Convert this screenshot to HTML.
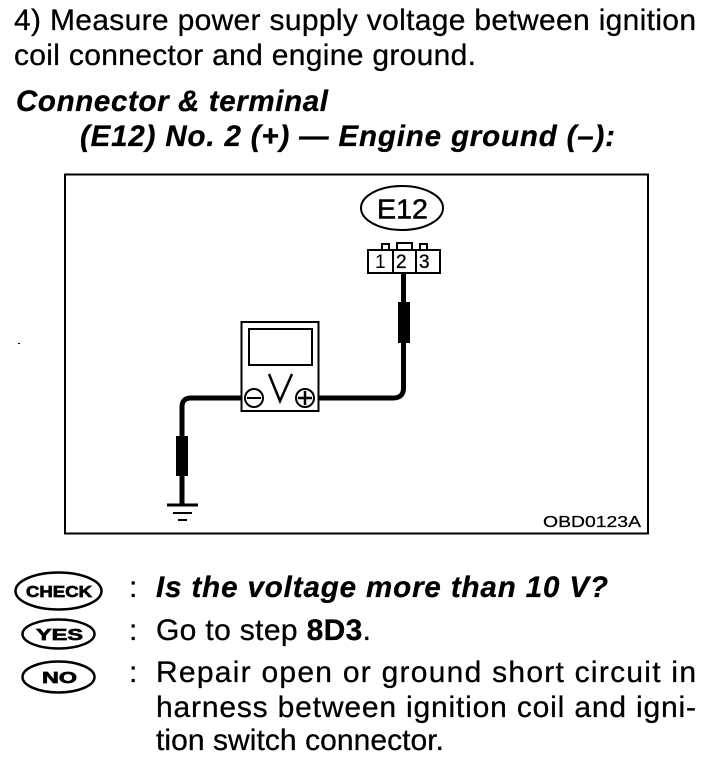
<!DOCTYPE html>
<html>
<head>
<meta charset="utf-8">
<style>
html,body{margin:0;padding:0;background:#fff}
svg{display:block}
text{font-family:"Liberation Sans",sans-serif;fill:#000}
.t{font-size:30px;stroke:#000;stroke-width:.3px}
.b{font-size:29.500px;font-weight:bold;font-style:italic;stroke:#000;stroke-width:.3px}
.lbl{font-weight:bold;font-size:16px;stroke:#000;stroke-width:.7px}
</style>
</head>
<body>
<svg width="704" height="760" viewBox="0 0 704 760" xmlns="http://www.w3.org/2000/svg">
<text class="t" x="14" y="30" textLength="682" lengthAdjust="spacing">4)  Measure power supply voltage between ignition</text>
<text class="t" x="14" y="65" textLength="462" lengthAdjust="spacing">coil connector and engine ground.</text>
<text class="b" x="16" y="111" textLength="312" lengthAdjust="spacing">Connector &amp; terminal</text>
<text class="b" x="80" y="146" textLength="535" lengthAdjust="spacing">(E12) No. 2 (+) — Engine ground (–):</text>

<rect x="65" y="174.500" width="583" height="359" fill="none" stroke="#000" stroke-width="2"/>
<text x="543" y="527" font-size="16" stroke="#000" stroke-width=".25" textLength="98" lengthAdjust="spacingAndGlyphs">OBD0123A</text>
<rect x="18" y="343" width="2" height="1" fill="#000"/>

<ellipse cx="402" cy="208" rx="41" ry="22" fill="none" stroke="#000" stroke-width="2"/>
<text x="377" y="218.500" font-size="28" stroke="#000" stroke-width=".5" textLength="51" lengthAdjust="spacingAndGlyphs">E12</text>

<g fill="none" stroke="#000" stroke-width="2">
<rect x="382" y="244" width="7" height="6"/>
<rect x="397" y="243" width="15" height="7"/>
<rect x="420" y="244" width="7" height="6"/>
<rect x="368" y="250" width="72" height="23"/>
<path d="M393 250V273M416 250V273"/>
</g>
<text x="375" y="268" font-size="19">1</text>
<text x="396" y="268" font-size="19" stroke="#000" stroke-width=".3">2</text>
<text x="419" y="268" font-size="19" stroke="#000" stroke-width=".3">3</text>

<path d="M403.500 273V388Q403.500 398 393 398H318" fill="none" stroke="#000" stroke-width="5"/>
<rect x="398" y="302" width="12" height="41" fill="#000"/>

<path d="M241 398H191Q182 398 182 407V505" fill="none" stroke="#000" stroke-width="5"/>
<rect x="176" y="436" width="12" height="40" fill="#000"/>
<g stroke="#000" fill="none">
<path d="M167 505H198" stroke-width="3"/>
<path d="M173 513H192" stroke-width="2"/>
<path d="M178 520H187" stroke-width="2"/>
</g>

<rect x="241.500" y="322" width="77" height="89" fill="#fff" stroke="#000" stroke-width="2"/>
<rect x="249" y="329" width="63" height="36" fill="none" stroke="#000" stroke-width="2"/>
<path d="M269 374L280 401L292 374" fill="none" stroke="#000" stroke-width="2.500"/>
<circle cx="254" cy="398" r="9" fill="#fff" stroke="#000" stroke-width="2"/>
<path d="M247 398H261" stroke="#000" stroke-width="2"/>
<circle cx="305" cy="398" r="9" fill="#fff" stroke="#000" stroke-width="2"/>
<path d="M298 398H312M305 391V405" stroke="#000" stroke-width="2.500"/>

<ellipse cx="58.500" cy="591" rx="43" ry="18.500" fill="none" stroke="#000" stroke-width="2.500"/>
<text class="lbl" x="26" y="597" textLength="66" lengthAdjust="spacingAndGlyphs">CHECK</text>
<ellipse cx="58.500" cy="634" rx="36" ry="14.500" fill="none" stroke="#000" stroke-width="2.500"/>
<text class="lbl" x="36" y="640" textLength="47" lengthAdjust="spacingAndGlyphs">YES</text>
<ellipse cx="58.500" cy="677" rx="36" ry="15.500" fill="none" stroke="#000" stroke-width="2.500"/>
<text class="lbl" x="42" y="683" textLength="35" lengthAdjust="spacingAndGlyphs">NO</text>

<text class="t" x="129" y="597">:</text>
<text class="t" x="129" y="640">:</text>
<text class="t" x="129" y="682">:</text>

<text class="b" x="156" y="597" textLength="452" lengthAdjust="spacing">Is the voltage more than 10 V?</text>
<text class="t" x="156" y="640" textLength="215" lengthAdjust="spacing">Go to step <tspan font-weight="bold">8D3</tspan>.</text>
<text class="t" x="156" y="682" textLength="540" lengthAdjust="spacing">Repair open or ground short circuit in</text>
<text class="t" x="156" y="717" textLength="540" lengthAdjust="spacing">harness between ignition coil and igni-</text>
<text class="t" x="156" y="750" textLength="288" lengthAdjust="spacing">tion switch connector.</text>
</svg>
</body>
</html>
